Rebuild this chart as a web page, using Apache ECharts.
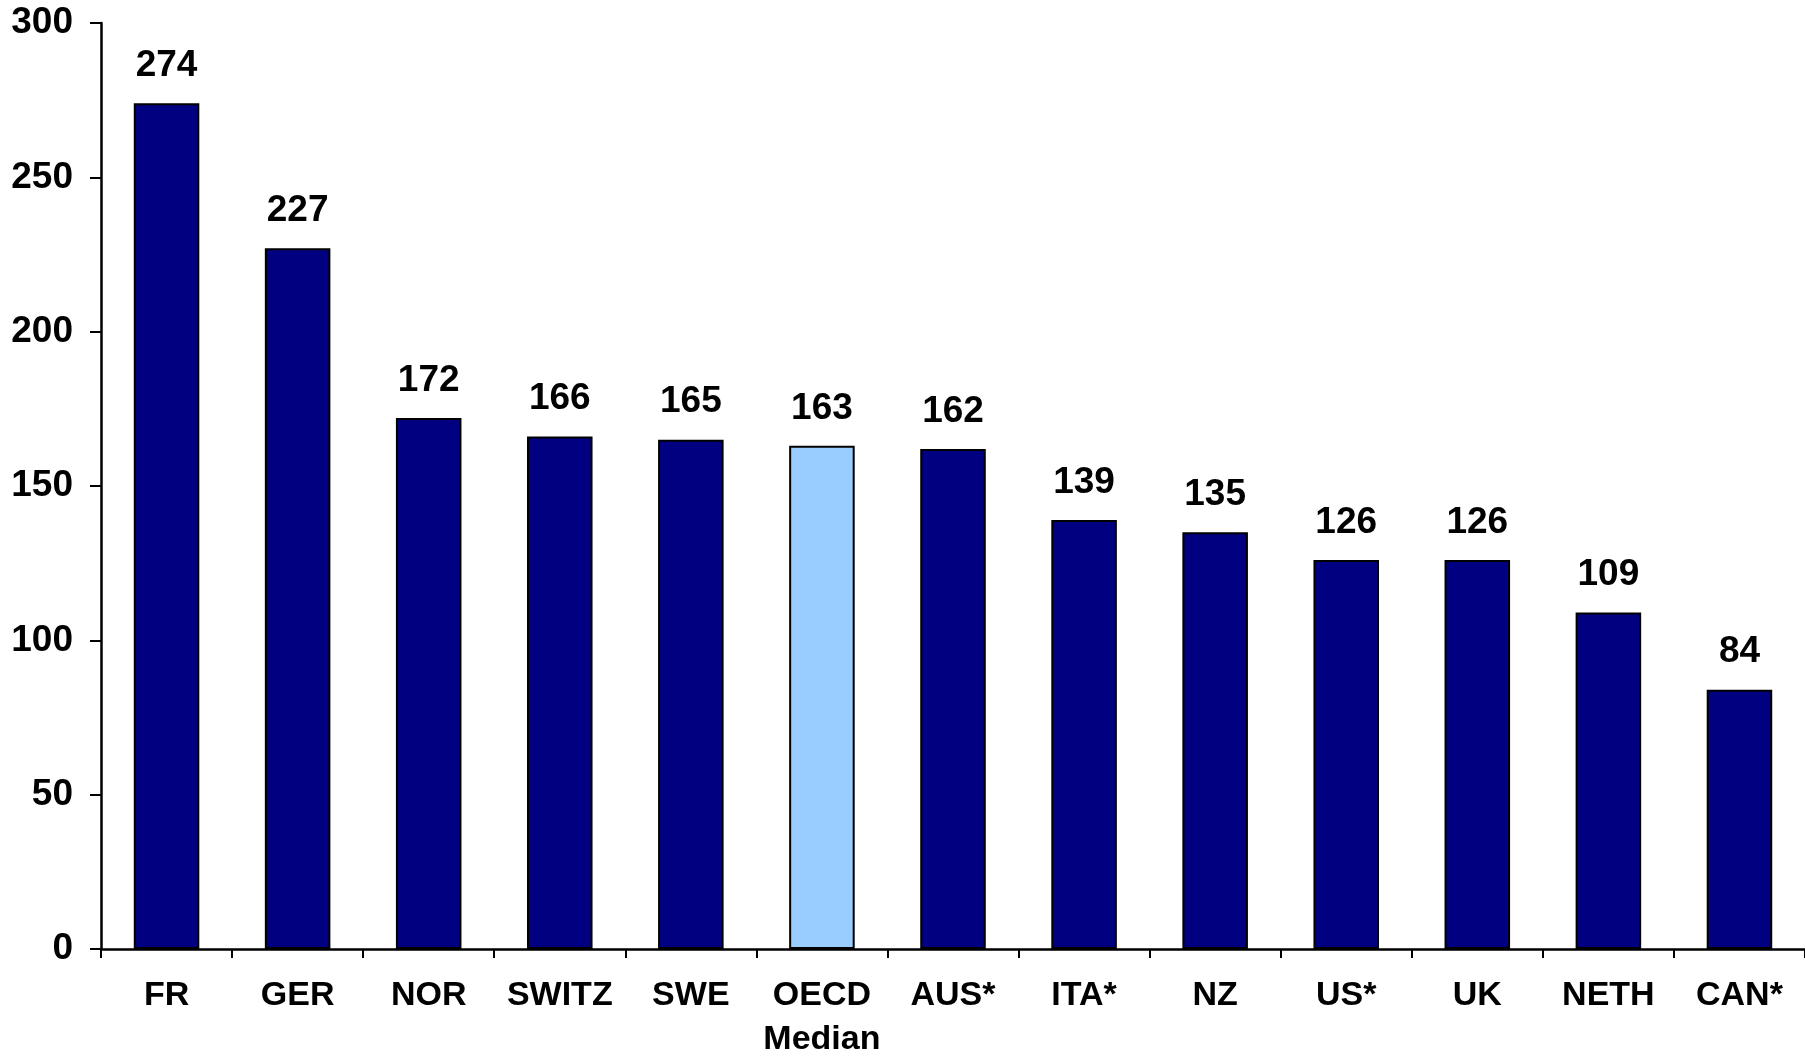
<!DOCTYPE html>
<html>
<head>
<meta charset="utf-8">
<script src="https://cdn.jsdelivr.net/npm/echarts@6/dist/echarts.min.js"></script>
<style>
html,body{margin:0;padding:0;background:#fff;}
#chart{width:1805px;height:1062px;}
</style>
</head>
<body>
<div id="chart"></div>
<script>
const categories = ['FR','GER','NOR','SWITZ','SWE','OECD\nMedian','AUS*','ITA*','NZ','US*','UK','NETH','CAN*'];
const values = [274,227,172,166,165,163,162,139,135,126,126,109,84];
const highlightCategory = 'OECD\nMedian';
const yTicks = [0,50,100,150,200,250,300];

const font = '"Liberation Sans", Arial, sans-serif';
const chart = echarts.init(document.getElementById('chart'));
chart.setOption({
  animation: false,
  backgroundColor: '#ffffff',
  grid: {left: 101, right: 0, top: 23, bottom: 106, containLabel: false},
  xAxis: {
    type: 'category',
    data: categories,
    axisLine: {lineStyle: {color: '#000', width: 2.5}},
    axisTick: {show: true, length: 9, lineStyle: {color: '#000', width: 2}},
    axisLabel: {color: '#000', fontFamily: font, fontWeight: 'bold', fontSize: 34, lineHeight: 44, margin: 25, interval: 0}
  },
  yAxis: {
    type: 'value',
    min: yTicks[0],
    max: yTicks[yTicks.length - 1],
    interval: 50,
    splitLine: {show: false},
    axisLine: {show: true, lineStyle: {color: '#000', width: 2.5}},
    axisTick: {show: true, length: 11, lineStyle: {color: '#000', width: 2}},
    axisLabel: {color: '#000', fontFamily: font, fontWeight: 'bold', fontSize: 37, margin: 28}
  },
  series: [{
    type: 'bar',
    barCategoryGap: '50%',
    data: values.map((v, i) => ({
      value: v,
      itemStyle: {color: categories[i] === highlightCategory ? '#99CCFF' : '#000080'}
    })),
    itemStyle: {borderColor: '#000', borderWidth: 2},
    label: {show: true, position: 'top', distance: 19, color: '#000', fontFamily: font, fontWeight: 'bold', fontSize: 37}
  }]
});
</script>
</body>
</html>
